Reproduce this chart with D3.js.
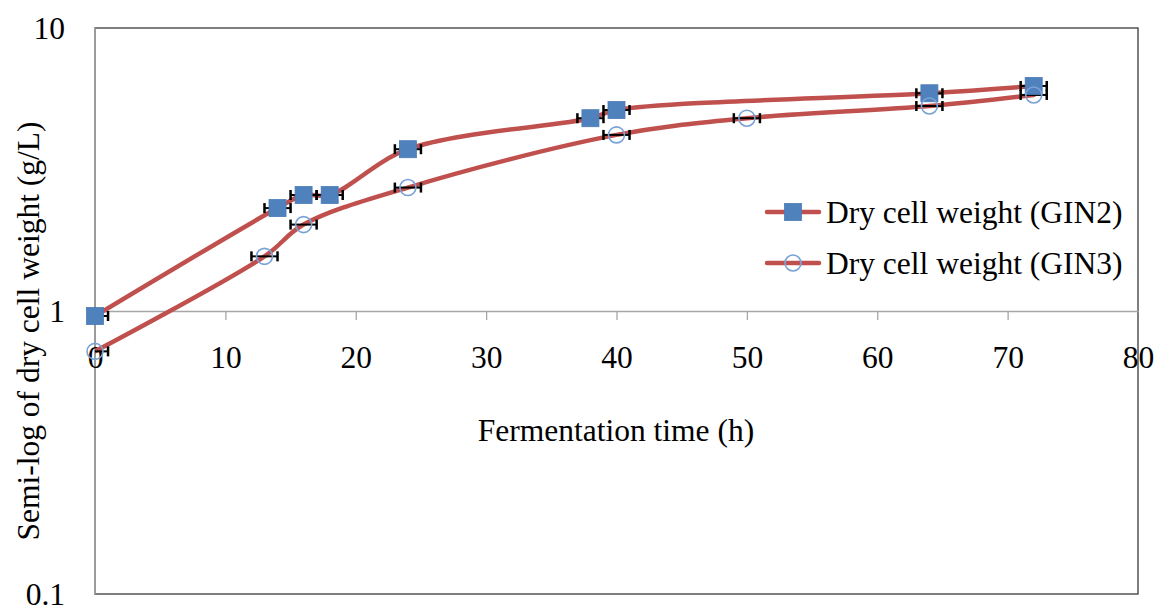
<!DOCTYPE html>
<html>
<head>
<meta charset="utf-8">
<script src="https://cdn.jsdelivr.net/npm/d3@7"></script>
<style>
  body { margin: 0; background: #fff; }
  text { font-family: 'Liberation Serif', 'Times New Roman', serif; fill: #000; }
</style>
</head>
<body>
<div id="vis"></div>
<script>
// fermentation times (h) and dry cell weight (g/L)
var timeGin2 = [0, 14, 16, 18, 24, 38, 40, 64, 72];
var dcwGin2 = [0.96, 2.31, 2.57, 2.57, 3.73, 4.80, 5.13, 5.88, 6.24];
var timeGin3 = [0, 13, 16, 24, 40, 50, 64, 72];
var dcwGin3 = [0.72, 1.56, 2.02, 2.73, 4.19, 4.80, 5.30, 5.80];
var timeErr = 1; // horizontal error, h
var xTicks = [0, 10, 20, 30, 40, 50, 60, 70, 80];
var yTicks = [0.1, 1, 10];
var seriesNames = ['Dry cell weight (GIN2)', 'Dry cell weight (GIN3)'];

var width = 1154;
var height = 608;
var plotLeft = 95, plotRight = 1138, plotTop = 28, plotBottom = 594;
var fontSize = '31.5px';
var lineColor = '#C0504D';
var markColor = '#4F81BD';

var svg = d3
  .select('#vis')
  .append('svg')
  .attr('width', width)
  .attr('height', height);

var x = d3.scaleLinear().domain([0, 80]).range([plotLeft, plotRight]);
var y = d3.scaleLog().domain([0.1, 10]).range([plotBottom, plotTop]);

svg
  .append('defs')
  .append('clipPath')
  .attr('id', 'plot-clip')
  .append('rect')
  .attr('x', plotLeft)
  .attr('y', plotTop)
  .attr('width', plotRight - plotLeft)
  .attr('height', plotBottom - plotTop);

// plot frame
svg
  .append('rect')
  .attr('x', plotLeft)
  .attr('y', plotTop)
  .attr('width', plotRight - plotLeft)
  .attr('height', plotBottom - plotTop)
  .style('fill', 'none')
  .style('stroke', '#3a3a3a')
  .style('stroke-width', 1.3);

// y axis line (grey), no ticks
svg
  .append('line')
  .attr('x1', plotLeft)
  .attr('x2', plotLeft)
  .attr('y1', plotTop)
  .attr('y2', plotBottom)
  .style('stroke', '#a6a6a6')
  .style('stroke-width', 1.5);

// x axis crossing at 1
var xAxis = svg
  .append('g')
  .attr('transform', `translate(0, ${y(1)})`)
  .call(d3.axisBottom(x).tickValues(xTicks).tickSize(9).tickSizeOuter(0).tickFormat(d3.format('d')));
xAxis.select('.domain').style('stroke', '#a6a6a6').style('stroke-width', 1.5);
xAxis.selectAll('.tick line').style('stroke', '#a6a6a6').style('stroke-width', 1.3);
xAxis.selectAll('.tick text')
  .attr('y', 46)
  .attr('dy', '0.35em')
  .style('font-size', fontSize)
  .style('font-family', "'Liberation Serif', serif");
xAxis.selectAll('.tick').filter(d => d === 0 || d === 80).select('line').remove();

// y tick labels
svg
  .selectAll('.ylab')
  .data(yTicks)
  .enter()
  .append('text')
  .attr('class', 'ylab')
  .attr('x', 65)
  .attr('y', d => y(d))
  .attr('dy', '0.35em')
  .attr('text-anchor', 'end')
  .style('font-size', fontSize)
  .text(d => d);

// axis titles
svg
  .append('text')
  .attr('x', 616)
  .attr('y', 430)
  .attr('dy', '0.35em')
  .attr('text-anchor', 'middle')
  .style('font-size', fontSize)
  .text('Fermentation time (h)');

svg
  .append('text')
  .attr('transform', 'translate(28, 331) rotate(-90)')
  .attr('dy', '0.35em')
  .attr('text-anchor', 'middle')
  .style('font-size', fontSize)
  .text('Semi-log of dry cell weight (g/L)');

var series = [
  {id: 'gin2', pts: timeGin2.map((t, i) => ({t: t, v: dcwGin2[i]})), shape: 'square'},
  {id: 'gin3', pts: timeGin3.map((t, i) => ({t: t, v: dcwGin3[i]})), shape: 'circle'},
];

var line = d3
  .line()
  .x(d => x(d.t))
  .y(d => y(d.v))
  .curve(d3.curveCatmullRom.alpha(0.5));

var plot = svg.append('g').attr('clip-path', 'url(#plot-clip)');

series.forEach(s => {
  plot
    .append('path')
    .datum(s.pts)
    .attr('d', line)
    .style('fill', 'none')
    .style('stroke', lineColor)
    .style('stroke-width', 4.5)
    .style('stroke-linecap', 'round');
});

// error bars
series.forEach(s => {
  var g = plot.append('g').attr('id', s.id + '-err');
  g.selectAll('line.bar')
    .data(s.pts)
    .enter()
    .append('line')
    .attr('x1', d => x(d.t - timeErr))
    .attr('x2', d => x(d.t + timeErr))
    .attr('y1', d => y(d.v))
    .attr('y2', d => y(d.v))
    .style('stroke', '#000')
    .style('stroke-width', 2);
  [-timeErr, timeErr].forEach(off => {
    g.selectAll(null)
      .data(s.pts)
      .enter()
      .append('line')
      .attr('x1', d => x(d.t + off))
      .attr('x2', d => x(d.t + off))
      .attr('y1', d => y(d.v) - 5)
      .attr('y2', d => y(d.v) + 5)
      .style('stroke', '#000')
      .style('stroke-width', 2.5);
  });
});

// markers
function drawSquare(g, cx, cy) {
  g.append('rect')
    .attr('x', cx - 8.5)
    .attr('y', cy - 8.5)
    .attr('width', 17)
    .attr('height', 17)
    .style('fill', markColor)
    .style('stroke', '#4a7ab5')
    .style('stroke-width', 0.8);
}

function drawCircle(g, cx, cy) {
  g.append('circle')
    .attr('cx', cx)
    .attr('cy', cy)
    .attr('r', 8)
    .style('fill', 'none')
    .style('stroke', '#7aa2d6')
    .style('stroke-width', 1.6);
}

series.forEach(s => {
  var g = svg.append('g').attr('id', s.id + '-marks');
  s.pts.forEach(d => {
    if (s.shape === 'square') drawSquare(g, x(d.t), y(d.v));
    else drawCircle(g, x(d.t), y(d.v));
  });
});

// legend
var legendRows = [212, 263];
series.forEach((s, i) => {
  var ly = legendRows[i];
  var g = svg.append('g').attr('id', s.id + '-legend');
  g.append('line')
    .attr('x1', 767)
    .attr('x2', 819)
    .attr('y1', ly)
    .attr('y2', ly)
    .style('stroke', lineColor)
    .style('stroke-width', 4.5)
    .style('stroke-linecap', 'round');
  if (s.shape === 'square') drawSquare(g, 793, ly);
  else drawCircle(g, 793, ly);
  g.append('text')
    .attr('x', 826)
    .attr('y', ly)
    .attr('dy', '0.35em')
    .style('font-size', fontSize)
    .text(seriesNames[i]);
});
</script>
</body>
</html>
